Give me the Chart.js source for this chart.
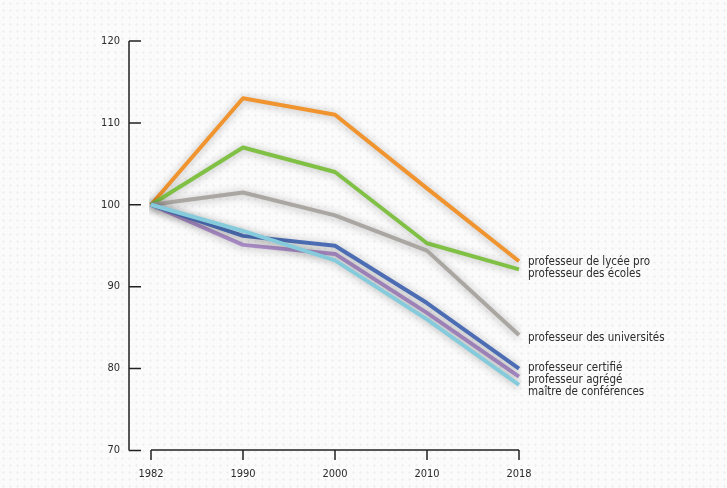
<!DOCTYPE html>
<html>
<head>
<meta charset="utf-8">
<script src="https://cdn.jsdelivr.net/npm/chart.js@4.4.1/dist/chart.umd.min.js"></script>
<style>
  html, body { margin: 0; padding: 0; }
  body {
    width: 727px; height: 488px; overflow: hidden;
    background-color: #fbfbfb;
    background-image: radial-gradient(#f0f0f0 1px, transparent 1.2px);
    background-size: 7px 7px;
  }
  #wrap { position: relative; width: 727px; height: 488px; }
</style>
</head>
<body>
<div id="wrap"><canvas id="chart"></canvas></div>
<script>
const years = ['1982', '1990', '2000', '2010', '2018'];

const seriesNames = [
  'maître de conférences',
  'professeur certifié',
  'professeur agrégé',
  'professeur des universités',
  'professeur des écoles',
  'professeur de lycée pro'
];

const maitreConf = [100, 96.8, 93.2, 86, 78];
const certifie = [100, 96.2, 95, 88, 80];
const agrege = [100, 95.1, 94, 86.8, 79];
const universites = [100, 101.5, 98.7, 94.4, 84.1];
const ecoles = [100, 107, 104, 95.3, 92.1];
const lyceePro = [100, 113, 111, 102, 93.1];

const seriesValues = [maitreConf, certifie, agrege, universites, ecoles, lyceePro];
const seriesColors = ['#86cbdc', '#4c6db3', '#a98cc6', '#aaa6a2', '#80c145', '#f0942f'];

const yTicks = [70, 80, 90, 100, 110, 120];

const FONT = '"Liberation Sans Narrow", "DejaVu Sans Condensed", "Open Sans", sans-serif';

// ombre douce sous les courbes
const shadowPlugin = {
  id: 'shadow',
  beforeDatasetsDraw(chart) {
    const ctx = chart.ctx;
    ctx.save();
    ctx.shadowColor = 'rgba(0,0,0,0.3)';
    ctx.shadowBlur = 8;
    ctx.shadowOffsetX = 0;
    ctx.shadowOffsetY = 1;
  },
  afterDatasetsDraw(chart) {
    chart.ctx.restore();
  }
};

// axes dessinés à la main (ligne verticale décalée, graduations vers l'intérieur)
const axesPlugin = {
  id: 'axes',
  afterDraw(chart) {
    const ctx = chart.ctx;
    const x = chart.scales.x, y = chart.scales.y;
    const area = chart.chartArea;
    const axisX = area.left - 22;
    ctx.save();
    ctx.strokeStyle = '#222';
    ctx.lineWidth = 1.5;
    ctx.beginPath();
    ctx.moveTo(axisX, y.getPixelForValue(120));
    ctx.lineTo(axisX, y.getPixelForValue(70));
    yTicks.forEach(v => {
      const py = y.getPixelForValue(v);
      ctx.moveTo(axisX, py);
      ctx.lineTo(axisX + 12, py);
    });
    const baseY = y.getPixelForValue(70) - 0.5;
    ctx.moveTo(x.getPixelForValue(0), baseY);
    ctx.lineTo(x.getPixelForValue(years.length - 1), baseY);
    years.forEach((_, i) => {
      const px = x.getPixelForValue(i);
      ctx.moveTo(px, baseY);
      ctx.lineTo(px, baseY + 10);
    });
    ctx.stroke();
    ctx.restore();
  }
};

// étiquettes en bout de courbe, écartées pour ne pas se chevaucher
const endLabelsPlugin = {
  id: 'endLabels',
  afterDraw(chart) {
    const ctx = chart.ctx;
    const last = years.length - 1;
    const items = chart.data.datasets.map((ds, i) => ({
      text: ds.label,
      y: chart.getDatasetMeta(i).data[last].y + 3
    })).sort((a, b) => a.y - b.y);

    const gap = 12;
    let groups = items.map(it => ({ items: [it], y: it.y }));
    let merged = true;
    while (merged) {
      merged = false;
      for (let i = 0; i < groups.length - 1; i++) {
        const a = groups[i], b = groups[i + 1];
        const aBottom = a.y + (a.items.length - 1) * gap / 2;
        const bTop = b.y - (b.items.length - 1) * gap / 2;
        if (bTop - aBottom < gap) {
          const all = a.items.concat(b.items);
          const mean = all.reduce((s, it) => s + it.y, 0) / all.length;
          groups.splice(i, 2, { items: all, y: mean });
          merged = true;
          break;
        }
      }
    }

    ctx.save();
    ctx.font = '11.5px ' + FONT;
    ctx.fillStyle = '#2b2b2b';
    ctx.textBaseline = 'middle';
    ctx.textAlign = 'left';
    const lx = chart.chartArea.right + 9;
    groups.forEach(g => {
      const start = g.y - (g.items.length - 1) * gap / 2;
      g.items.forEach((it, k) => ctx.fillText(it.text, lx, start + k * gap));
    });
    ctx.restore();
  }
};

const datasets = seriesNames.map((name, i) => ({
  label: name,
  data: seriesValues[i],
  borderColor: seriesColors[i],
  backgroundColor: seriesColors[i],
  borderWidth: 4,
  pointRadius: 0,
  pointHoverRadius: 0,
  tension: 0,
  borderJoinStyle: 'round',
  fill: false
}));

new Chart(document.getElementById('chart'), {
  type: 'line',
  data: { labels: years, datasets: datasets },
  options: {
    responsive: true,
    maintainAspectRatio: false,
    animation: false,
    layout: { padding: { left: 0, right: 208, top: 41, bottom: 0 } },
    plugins: {
      legend: { display: false },
      tooltip: { enabled: false }
    },
    scales: {
      x: {
        type: 'category',
        offset: false,
        grid: { display: false, drawTicks: false },
        border: { display: false },
        afterFit: s => { s.height = 35; },
        ticks: {
          padding: 17,
          autoSkip: false,
          maxRotation: 0,
          color: '#2b2b2b',
          font: { family: FONT, size: 11 }
        }
      },
      y: {
        min: 70,
        max: 120,
        grid: { display: false, drawTicks: false },
        border: { display: false },
        afterFit: s => { s.width = 151; },
        afterBuildTicks: s => { s.ticks = yTicks.map(v => ({ value: v })); },
        ticks: {
          padding: 31,
          color: '#2b2b2b',
          font: { family: FONT, size: 11 }
        }
      }
    }
  },
  plugins: [shadowPlugin, axesPlugin, endLabelsPlugin]
});
</script>
</body>
</html>
